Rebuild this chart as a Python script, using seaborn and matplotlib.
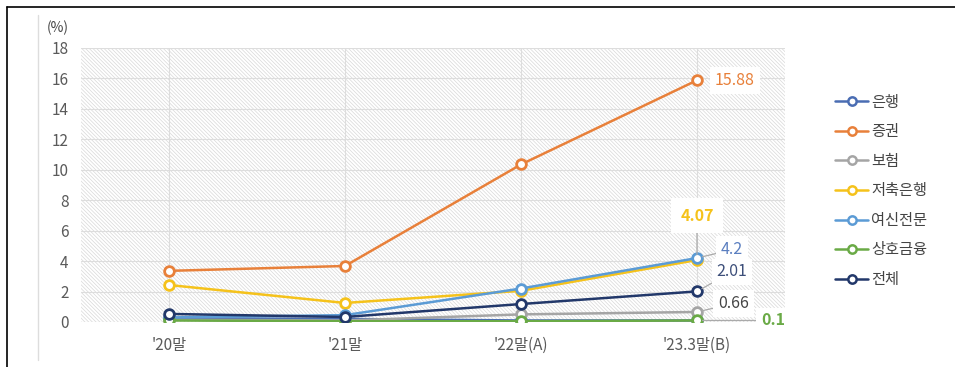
import matplotlib
matplotlib.use("Agg")
import matplotlib.pyplot as plt
import seaborn as sns
import pandas as pd
from matplotlib.lines import Line2D
from matplotlib.patches import Rectangle

sns.set_style("white")
plt.rcParams['font.family'] = ['Noto Sans CJK KR', 'DejaVu Sans']
plt.rcParams['hatch.linewidth'] = 0.5
plt.rcParams['hatch.color'] = '#d4d4d4'

categories = ["'20말", "'21말", "'22말(A)", "'23.3말(B)"]
series_names = ["은행", "증권", "보험", "저축은행", "여신전문", "상호금융", "전체"]
bank = [0.25, 0.2, 0.1, 0.1]
securities = [3.36, 3.68, 10.35, 15.88]
insurance = [0.15, 0.1, 0.5, 0.66]
savings_bank = [2.43, 1.25, 2.05, 4.07]
card_credit = [0.3, 0.45, 2.2, 4.2]
mutual = [0.1, 0.05, 0.05, 0.1]
total = [0.53, 0.33, 1.18, 2.01]
yticks = [0, 2, 4, 6, 8, 10, 12, 14, 16, 18]

values = [bank, securities, insurance, savings_bank, card_credit, mutual, total]
colors = ["#4a6db3", "#e8803a", "#a5a5a5", "#f5c21b", "#5b9bd5", "#6aaa46", "#22386a"]

rows = []
for name, vals in zip(series_names, values):
    for i, (c, v) in enumerate(zip(categories, vals)):
        rows.append({"series": name, "pos": i, "cat": c, "value": v})
df = pd.DataFrame(rows)

fig = plt.figure(figsize=(9.55, 3.67), dpi=100)
ax = fig.add_axes([81/955, 1-322/367, (785-81)/955, (322-48)/367])

# hatched background
ax.add_patch(Rectangle((0, 0), 1, 1, transform=ax.transAxes, facecolor='white',
                       hatch='\\' * 9, edgecolor='#d8d8d8', linewidth=0, zorder=0))

for name, col in zip(series_names, colors):
    sub = df[df["series"] == name]
    sns.lineplot(data=sub, x="pos", y="value", ax=ax, color=col, linewidth=1.8,
                 marker='o', markersize=7, markerfacecolor='white',
                 markeredgecolor=col, markeredgewidth=2, legend=False, zorder=3)

ax.set_xlim(-0.5, 3.5)
ax.set_ylim(0, 18)
ax.set_yticks(yticks)
ax.set_yticklabels([str(t) for t in yticks])
ax.set_xticks(range(len(categories)))
ax.set_xticklabels(categories)
ax.set_xlabel("")
ax.set_ylabel("")
ax.grid(True, color='#dddddd', linewidth=0.8, zorder=1)
ax.set_axisbelow(True)
for s in ax.spines.values():
    s.set_visible(False)
ax.tick_params(axis='both', length=0, labelsize=11, labelcolor='#5a5a5a')
ax.tick_params(axis='y', pad=9)
ax.tick_params(axis='x', pad=11)

fig.text(47/955, 1-28/367, "(%)", fontsize=10, color='#444444', ha='left', va='center')

# data labels
bbox = dict(boxstyle='square,pad=0.3', facecolor='white', edgecolor='none')
lead = dict(arrowstyle='-', color='#aaaaaa', linewidth=0.9, shrinkA=0, shrinkB=4)
fs = 11.5
ax.annotate("15.88", xy=(3, securities[3]), xytext=(13, 0), textcoords='offset points',
            ha='left', va='center', fontsize=fs, color='#e8803a', bbox=bbox, zorder=5)
ax.annotate("4.07", xy=(3, savings_bank[3]), xytext=(0, 32), textcoords='offset points',
            ha='center', va='center', fontsize=fs, color='#f5c21b', fontweight='bold',
            bbox=dict(boxstyle='square,pad=0.6', facecolor='white', edgecolor='none'),
            arrowprops=lead, zorder=5)
ax.annotate("4.2", xy=(3, card_credit[3]), xytext=(17, 6), textcoords='offset points',
            ha='left', va='center', fontsize=fs, color='#5b7fc0', bbox=bbox,
            arrowprops=lead, zorder=5)
ax.annotate("2.01", xy=(3, total[3]), xytext=(14, 14), textcoords='offset points',
            ha='left', va='center', fontsize=fs, color='#3d4f7a', bbox=bbox,
            arrowprops=lead, zorder=5)
ax.annotate("0.66", xy=(3, insurance[3]), xytext=(15, 6), textcoords='offset points',
            ha='left', va='center', fontsize=fs, color='#444444', bbox=bbox,
            arrowprops=lead, zorder=5)
ax.annotate("0.1", xy=(3, mutual[3]), xytext=(46, 0), textcoords='offset points',
            ha='left', va='center', fontsize=fs, color='#6aaa46', fontweight='bold',
            bbox=bbox, arrowprops=lead, zorder=5, annotation_clip=False)

# legend
handles = [Line2D([0], [0], color=c, linewidth=1.8, marker='o', markersize=6,
                  markerfacecolor='white', markeredgecolor=c, markeredgewidth=1.8)
           for c in colors]
leg = fig.legend(handles, series_names, loc='upper left', bbox_to_anchor=(821/955, 1-80/367),
                 frameon=False, fontsize=11, labelspacing=0.82, handlelength=2.2,
                 handletextpad=0.2, labelcolor='#444444')

# frame lines
fig.add_artist(Line2D([7/955, 7/955], [0, 1-7/367], color='black', linewidth=1.2,
                      transform=fig.transFigure))
fig.add_artist(Line2D([7/955, 1], [1-7/367, 1-7/367], color='black', linewidth=1.2,
                      transform=fig.transFigure))
fig.add_artist(Line2D([38/955, 38/955], [1-360/367, 1-15/367], color='#dddddd', linewidth=1,
                      transform=fig.transFigure))

fig.savefig("out.png", dpi=100)
